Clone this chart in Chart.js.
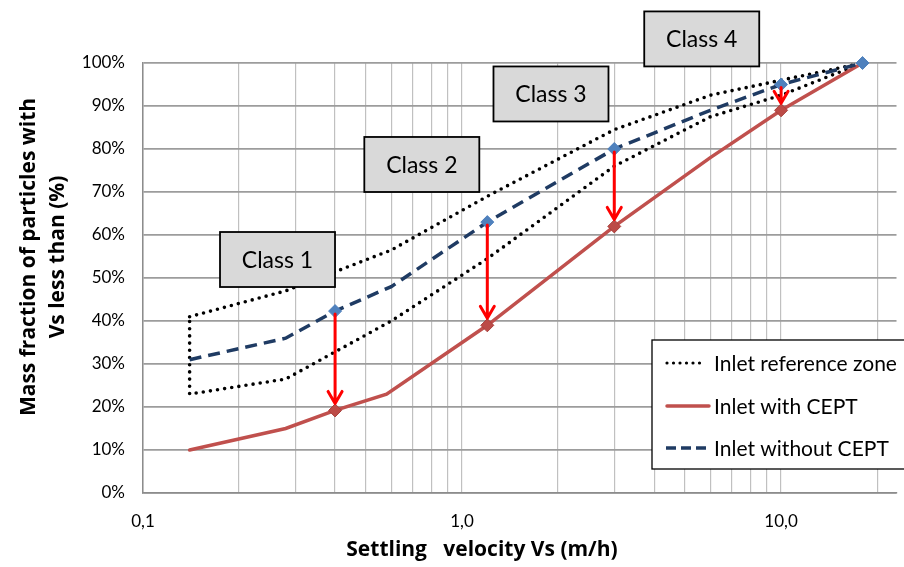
<!DOCTYPE html>
<html>
<head>
<meta charset="utf-8">
<script src="https://cdn.jsdelivr.net/npm/chart.js@4.4.1/dist/chart.umd.min.js"></script>
<style>
  html, body { margin: 0; padding: 0; background: #fff; overflow: hidden; }
  #wrap { width: 904px; height: 567px; }
</style>
</head>
<body>
<div id="wrap"><canvas id="grafiek" width="904" height="567"></canvas></div>
<script>
// settling velocity (m/h) -> mass fraction (%)
const refUpperX = [0.14, 0.28, 0.6, 1.2, 3, 6, 10, 18];
const refUpperY = [41, 47, 56.5, 69, 84.5, 92.5, 96, 100];
const refLowerX = [0.14, 0.28, 0.6, 1.2, 3, 6, 10, 18];
const refLowerY = [23, 26.5, 40, 54.5, 76, 87.5, 92.5, 100];

const withX = [0.14, 0.28, 0.4, 0.58, 1.2, 3, 6, 10, 18];
const withY = [10, 15, 19.2, 23, 39, 62, 78, 89, 100];

const withoutX = [0.14, 0.28, 0.4, 0.6, 1.2, 3, 6, 10, 18];
const withoutY = [31, 36, 42.3, 48, 63, 80, 89, 95, 100];

const redMarkers = [0.4, 1.2, 3, 10];
const blueMarkers = [0.4, 1.2, 3, 10, 18];
const arrowX = [0.4, 1.2, 3, 10];

const xGrid = [0.1, 0.2, 0.3, 0.4, 0.5, 0.6, 0.7, 0.8, 0.9, 1, 2, 3, 4, 5, 6, 7, 8, 9, 10, 20];
const xTickLabels = { 0.1: '0,1', 1: '1,0', 10: '10,0' };

const classLabels = ['Class 1', 'Class 2', 'Class 3', 'Class 4'];
const classX = [0.264, 0.748, 1.9, 5.64];
const classY = [54.3, 76.4, 92.8, 105.6];

const legendLabels = ['Inlet reference zone', 'Inlet with CEPT', 'Inlet without CEPT'];

const FONT = 'Lato, "Open Sans", sans-serif';
const BOLD = '"Open Sans", "Liberation Sans", sans-serif';
const ROOD = '#c0504d';
const BLAUW = '#1f3b63';

// polygon of the reference zone: upper edge left->right, lower edge back
const zone = [];
refUpperX.forEach((x, i) => zone.push({ x: x, y: refUpperY[i] }));
for (let i = refLowerX.length - 2; i >= 0; i--) zone.push({ x: refLowerX[i], y: refLowerY[i] });
zone.push({ x: refUpperX[0], y: refUpperY[0] });

const withData = withX.map((x, i) => ({ x: x, y: withY[i] }));
const withoutData = withoutX.map((x, i) => ({ x: x, y: withoutY[i] }));

const extras = {
  id: 'extras',
  afterDatasetsDraw(chart) {
    const ctx = chart.ctx;
    const xs = chart.scales.x;
    const ys = chart.scales.y;

    // red arrows from "without" to "with"
    ctx.save();
    ctx.strokeStyle = '#ff0000';
    ctx.lineWidth = 3;
    ctx.lineCap = 'round';
    ctx.lineJoin = 'round';
    arrowX.forEach(v => {
      const px = xs.getPixelForValue(v);
      const y1 = ys.getPixelForValue(withoutY[withoutX.indexOf(v)]);
      const y2 = ys.getPixelForValue(withY[withX.indexOf(v)]) - 7;
      ctx.beginPath();
      ctx.moveTo(px, y1 + 3);
      ctx.lineTo(px, y2);
      ctx.moveTo(px - 7, y2 - 12);
      ctx.lineTo(px, y2);
      ctx.lineTo(px + 7, y2 - 12);
      ctx.stroke();
    });
    ctx.restore();

    // class boxes
    ctx.save();
    ctx.font = '23px ' + FONT;
    ctx.textAlign = 'center';
    ctx.textBaseline = 'middle';
    classLabels.forEach((t, i) => {
      const cx = xs.getPixelForValue(classX[i]);
      const cy = ys.getPixelForValue(classY[i]);
      ctx.fillStyle = '#d9d9d9';
      ctx.fillRect(cx - 57.5, cy - 27.5, 115, 55);
      ctx.strokeStyle = '#000';
      ctx.lineWidth = 1.8;
      ctx.strokeRect(cx - 57.5, cy - 27.5, 115, 55);
      ctx.fillStyle = '#000';
      ctx.fillText(t, cx, cy + 1);
    });
    ctx.restore();

    // legend
    ctx.save();
    ctx.fillStyle = '#fff';
    ctx.fillRect(652, 340, 270, 129);
    ctx.strokeStyle = '#000';
    ctx.lineWidth = 1.3;
    ctx.strokeRect(652, 340, 270, 129);
    const rows = [363, 406, 448];
    ctx.font = '21px ' + FONT;
    ctx.textBaseline = 'middle';
    ctx.textAlign = 'left';
    ctx.fillStyle = '#000';
    legendLabels.forEach((t, i) => {
      const y = rows[i];
      ctx.beginPath();
      if (i === 0) {
        ctx.strokeStyle = '#000'; ctx.lineWidth = 3.2; ctx.lineCap = 'round'; ctx.setLineDash([0, 6.5]);
        ctx.moveTo(667, y); ctx.lineTo(700, y);
      } else if (i === 1) {
        ctx.strokeStyle = ROOD; ctx.lineWidth = 3.5; ctx.lineCap = 'round'; ctx.setLineDash([]);
        ctx.moveTo(667, y); ctx.lineTo(709, y);
      } else {
        ctx.strokeStyle = BLAUW; ctx.lineWidth = 3.5; ctx.lineCap = 'butt'; ctx.setLineDash([10, 5]);
        ctx.moveTo(666, y); ctx.lineTo(706, y);
      }
      ctx.stroke();
      ctx.setLineDash([]);
      ctx.fillText(t, 714, y + 1);
    });
    ctx.restore();

    // axis titles
    ctx.save();
    ctx.fillStyle = '#000';
    ctx.font = 'bold 21px ' + BOLD;
    ctx.textAlign = 'center';
    ctx.textBaseline = 'middle';
    ctx.fillText('Settling   velocity Vs (m/h)', 482, 550);
    ctx.translate(0, 257);
    ctx.rotate(-Math.PI / 2);
    ctx.fillText('Mass fraction of particles with', 0, 29);
    ctx.fillText('Vs less than (%)', 0, 58);
    ctx.restore();
  }
};

new Chart(document.getElementById('grafiek').getContext('2d'), {
  type: 'line',
  data: {
    datasets: [
      {
        label: legendLabels[2],
        data: withoutData,
        borderColor: BLAUW,
        borderWidth: 3.5,
        borderDash: [12, 7],
        pointStyle: 'rectRot',
        pointRadius: c => blueMarkers.includes(c.raw.x) ? 6.5 : 0,
        pointBackgroundColor: '#4f81bd',
        pointBorderColor: '#4f81bd',
        pointBorderWidth: 1,
        tension: 0,
        clip: false,
        order: 0
      },
      {
        label: legendLabels[1],
        data: withData,
        borderColor: ROOD,
        borderWidth: 3.5,
        borderCapStyle: 'round',
        pointStyle: 'rectRot',
        pointRadius: c => redMarkers.includes(c.raw.x) ? 6.5 : 0,
        pointBackgroundColor: '#bc4b47',
        pointBorderColor: '#a8403c',
        pointBorderWidth: 1,
        tension: 0,
        clip: false,
        order: 1
      },
      {
        label: legendLabels[0],
        data: zone,
        borderColor: '#000',
        borderWidth: 3.6,
        borderDash: [0, 7.2],
        borderCapStyle: 'round',
        pointRadius: 0,
        tension: 0,
        clip: false,
        order: 2
      }
    ]
  },
  options: {
    responsive: false,
    animation: false,
    events: [],
    layout: { padding: { top: 63, left: 0, right: 0, bottom: 0 } },
    plugins: {
      legend: { display: false },
      tooltip: { enabled: false }
    },
    scales: {
      x: {
        type: 'logarithmic',
        min: 0.1,
        max: 23,
        afterBuildTicks: s => { s.ticks = xGrid.map(v => ({ value: v })); },
        afterFit: s => { s.height = 74; },
        ticks: {
          autoSkip: false,
          maxRotation: 0,
          padding: 18,
          color: '#000',
          font: { family: FONT, size: 17 },
          callback: v => xTickLabels[v] || ''
        },
        grid: { color: '#c0c0c0', lineWidth: 1.2, drawTicks: false },
        border: { color: '#8c8c8c', width: 1.5 }
      },
      y: {
        min: 0,
        max: 100,
        afterFit: s => { s.width = 143; },
        ticks: {
          stepSize: 10,
          padding: 18,
          color: '#000',
          font: { family: FONT, size: 17 },
          callback: v => v + '%'
        },
        grid: { color: '#9c9c9c', lineWidth: 1.7, drawTicks: false },
        border: { color: '#8c8c8c', width: 1.5 }
      }
    }
  },
  plugins: [extras]
});
</script>
</body>
</html>
